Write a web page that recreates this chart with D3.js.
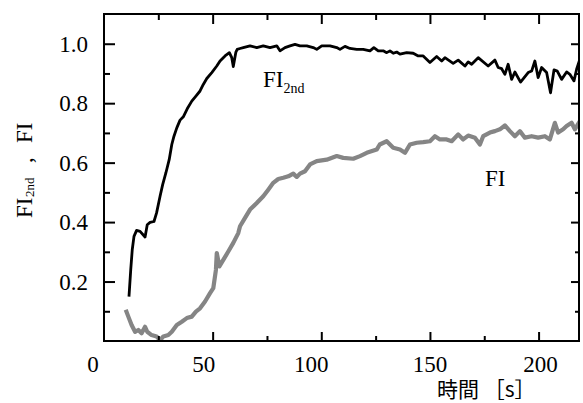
<!DOCTYPE html>
<html>
<head>
<meta charset="utf-8">
<script src="https://cdn.jsdelivr.net/npm/d3@7"></script>
<style>
  html, body { margin: 0; padding: 0; background: #fff; }
  svg { display: block; }
</style>
</head>
<body>
<svg id="chart" width="583" height="403"></svg>
<script>
// ---------- DATA ----------
const xTickValues = [0, 50, 100, 150, 200];
const xTickLabels = ["0", "50", "100", "150", "200"];
const xMinorTicks = [25, 75, 125, 175];
const yTickValues = [0.2, 0.4, 0.6, 0.8, 1.0];
const yTickLabels = ["0.2", "0.4", "0.6", "0.8", "1.0"];
const yMinorTicks = [0.1, 0.3, 0.5, 0.7, 0.9];

const fi2ndTime = [11.5,12.3,13.0,13.8,15.0,16.6,18.9,19.9,21.2,23.0,24.2,25.8,27.0,28.5,30.0,31.2,32.2,33.5,35.0,36.5,38.3,40.4,42.3,44.2,45.7,47.3,49.6,51.9,53.4,55.7,57.7,58.8,59.5,60.7,61.3,62.6,64.1,67.2,70.3,73.3,76.4,79.5,81.0,83.3,85.6,87.9,90.2,93.3,96.3,97.9,100.2,104.0,107.1,108.6,110.9,113.2,116.3,119.3,122.4,124.2,126.2,128.5,130.1,131.6,133.1,134.7,136.2,139.3,142.3,144.6,146.9,150.0,153.1,155.4,156.9,160.7,163.0,166.1,167.6,169.2,172.2,176.8,179.9,181.4,183.0,184.5,186.0,187.6,189.1,191.7,195.2,196.8,198.3,199.8,201.4,203.7,205.5,207.1,208.6,210.6,212.9,214.4,216.3,217.5,219.0];
const fi2ndValue = [0.149,0.239,0.307,0.352,0.372,0.369,0.350,0.391,0.399,0.402,0.431,0.487,0.526,0.566,0.610,0.661,0.689,0.717,0.743,0.754,0.781,0.807,0.824,0.841,0.863,0.883,0.903,0.925,0.942,0.959,0.970,0.953,0.923,0.972,0.981,0.984,0.987,0.993,0.987,0.993,0.987,0.993,0.976,0.987,0.993,0.998,0.993,0.993,0.987,0.981,0.993,0.993,0.987,0.981,0.991,0.984,0.981,0.981,0.976,0.987,0.976,0.976,0.970,0.976,0.968,0.972,0.965,0.970,0.968,0.959,0.959,0.937,0.957,0.942,0.953,0.934,0.945,0.925,0.939,0.931,0.953,0.925,0.945,0.920,0.916,0.897,0.931,0.880,0.905,0.871,0.903,0.908,0.942,0.886,0.920,0.903,0.835,0.912,0.908,0.880,0.905,0.897,0.875,0.914,0.948];

const fiTime = [10.0,11.2,12.7,14.3,15.8,17.3,18.9,19.9,21.9,24.2,25.8,27.3,29.6,31.2,33.5,35.8,38.1,40.4,42.3,44.2,46.5,48.8,50.3,51.5,51.9,53.1,54.9,57.2,59.5,61.8,62.6,64.9,67.2,70.3,73.3,75.6,77.9,80.2,82.5,84.8,87.1,88.7,90.2,92.5,94.8,97.9,102.5,107.1,110.1,114.7,117.8,120.9,125.5,126.9,130.1,133.1,136.2,138.5,140.8,143.9,146.9,150.0,152.3,154.6,157.7,160.0,163.0,165.3,167.6,170.7,173.0,174.5,177.6,179.9,182.2,184.5,186.8,189.1,191.4,193.7,196.8,199.8,202.9,205.2,207.5,209.0,211.3,212.9,215.2,216.7,219.0];
const fiValue = [0.105,0.082,0.054,0.031,0.037,0.026,0.048,0.031,0.020,0.015,0.003,0.015,0.020,0.031,0.054,0.065,0.077,0.082,0.099,0.110,0.133,0.161,0.178,0.239,0.296,0.251,0.273,0.301,0.330,0.363,0.386,0.414,0.442,0.464,0.487,0.509,0.532,0.545,0.549,0.554,0.563,0.552,0.563,0.571,0.594,0.605,0.610,0.622,0.616,0.613,0.622,0.633,0.644,0.661,0.672,0.650,0.644,0.633,0.661,0.667,0.669,0.672,0.689,0.678,0.678,0.672,0.695,0.678,0.691,0.684,0.661,0.689,0.701,0.706,0.712,0.725,0.706,0.689,0.706,0.684,0.689,0.684,0.689,0.678,0.734,0.701,0.712,0.723,0.734,0.712,0.740];

// ---------- DRAWING ----------
const svg = d3.select("#chart");
const L = 104, R = 579, T = 14, B = 341;
const x = d3.scaleLinear().domain([0, 218.6]).range([L, R]);
const y = d3.scaleLinear().domain([0, 1.1]).range([B, T]);
const serif = "'Liberation Serif', 'Times New Roman', serif";

svg.append("defs").append("clipPath").attr("id", "clip")
  .append("rect").attr("x", L).attr("y", T).attr("width", R - L).attr("height", B - T);

const line = d3.line().x(d => x(d[0])).y(d => y(d[1]));
const fiData = fiTime.map((t, i) => [t, fiValue[i]]);
const fi2Data = fi2ndTime.map((t, i) => [t, fi2ndValue[i]]);

const plot = svg.append("g").attr("clip-path", "url(#clip)");
plot.append("path").datum(fiData).attr("d", line)
  .attr("fill", "none").attr("stroke", "#858585").attr("stroke-width", 4.2)
  .attr("stroke-linejoin", "round");
plot.append("path").datum(fi2Data).attr("d", line)
  .attr("fill", "none").attr("stroke", "#000").attr("stroke-width", 2.8)
  .attr("stroke-linejoin", "round");

// axes (ticks inward)
function axisTicks(axisGen, tf, major, minor, majorVals, minorVals) {
  const g = svg.append("g").attr("transform", tf);
  g.call(axisGen.tickValues(majorVals).tickSize(major).tickFormat(""));
  const g2 = svg.append("g").attr("transform", tf);
  g2.call(axisGen.tickValues(minorVals).tickSize(minor).tickFormat(""));
  [g, g2].forEach(gg => {
    gg.select(".domain").remove();
    gg.selectAll("line").attr("stroke", "#000").attr("stroke-width", 2);
  });
}
axisTicks(d3.axisTop(x), `translate(0,${B})`, 9, 5, xTickValues.slice(1), xMinorTicks);
axisTicks(d3.axisBottom(x), `translate(0,${T})`, 10, 6, xTickValues.slice(1), xMinorTicks);
axisTicks(d3.axisRight(y), `translate(${L},0)`, 11, 6, yTickValues, yMinorTicks);
axisTicks(d3.axisLeft(y), `translate(${R},0)`, 8, 4, yTickValues, yMinorTicks);

// frame
svg.append("rect").attr("x", L).attr("y", T).attr("width", R - L).attr("height", B - T)
  .attr("fill", "none").attr("stroke", "#000").attr("stroke-width", 2);

// tick labels
const xLabelOffset = [-11, -9, -10, 0, 2];
svg.append("g").selectAll("text").data(xTickValues).join("text")
  .attr("x", (d, i) => x(d) + xLabelOffset[i]).attr("y", 372)
  .attr("text-anchor", "middle").attr("font-family", serif).attr("font-size", 23)
  .text((d, i) => xTickLabels[i]);
svg.append("g").selectAll("text").data(yTickValues).join("text")
  .attr("x", 88).attr("y", d => y(d)).attr("dy", "0.35em")
  .attr("text-anchor", "end").attr("font-family", serif).attr("font-size", 23)
  .text((d, i) => yTickLabels[i]);

// x title
svg.append("text").attr("x", 437).attr("y", 397)
  .attr("font-family", "'Noto Sans CJK JP', sans-serif").attr("font-size", 21)
  .text("時間 ［s］");

// y title
const yt = svg.append("text").attr("transform", "translate(32,218) rotate(-90)")
  .attr("font-family", serif).attr("font-size", 23);
yt.append("tspan").attr("x", 0).attr("y", 0).text("FI");
yt.append("tspan").attr("x", 21).attr("y", 2).attr("font-size", 13).text("2nd");
yt.append("tspan").attr("x", 55).attr("y", 0).text(",");
yt.append("tspan").attr("x", 75).attr("y", 0).text("FI");

// series labels
const lab = svg.append("text").attr("x", 263).attr("y", 87)
  .attr("font-family", serif).attr("font-size", 23);
lab.append("tspan").text("FI");
lab.append("tspan").attr("dy", 6).attr("font-size", 14).text("2nd");
svg.append("text").attr("x", 485).attr("y", 186)
  .attr("font-family", serif).attr("font-size", 23).text("FI");
</script>
</body>
</html>
